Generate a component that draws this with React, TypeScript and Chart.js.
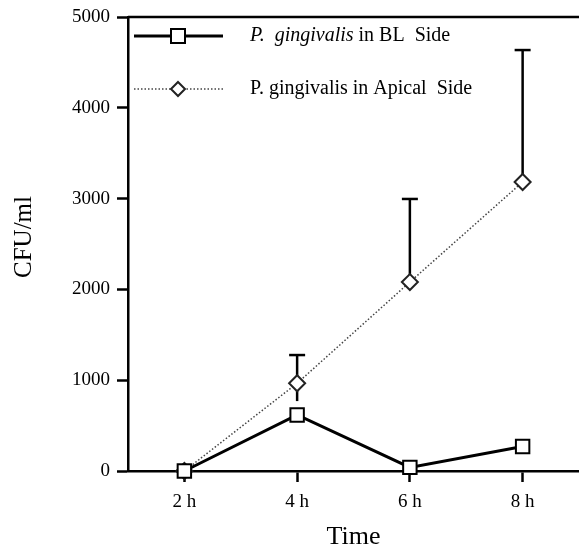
import React, { useEffect, useRef } from "react";
import { Chart, registerables } from "chart.js";

Chart.register(...registerables);

const categories = ["2 h", "4 h", "6 h", "8 h"];
const blValues = [0, 617, 40, 270];
const apicalValues = [0, 966, 2081, 3183];
const apicalUpper = [null, 1277, 2996, 4636];
const apicalLower = [null, 770, null, null];
const yTicks = [0, 1000, 2000, 3000, 4000, 5000];

const FONT = "'Liberation Serif', 'Times New Roman', serif";

const extrasPlugin = {
  id: "extras",
  beforeDatasetsDraw(chart: any) {
    const { ctx, scales } = chart;
    const xs = scales.x;
    const ys = scales.y;
    ctx.save();
    ctx.strokeStyle = "#000";
    ctx.lineWidth = 2.5;
    for (let i = 0; i < categories.length; i++) {
      const x = xs.getPixelForValue(i);
      const y0 = ys.getPixelForValue(apicalValues[i]);
      const up = apicalUpper[i];
      if (up != null) {
        const yu = ys.getPixelForValue(up);
        ctx.beginPath();
        ctx.moveTo(x, y0);
        ctx.lineTo(x, yu);
        ctx.stroke();
        ctx.beginPath();
        ctx.moveTo(x - 8, yu);
        ctx.lineTo(x + 8, yu);
        ctx.stroke();
      }
      const lo = apicalLower[i];
      if (lo != null) {
        const yl = ys.getPixelForValue(lo);
        ctx.beginPath();
        ctx.moveTo(x, y0);
        ctx.lineTo(x, yl);
        ctx.stroke();
      }
    }
    ctx.restore();
  },
  afterDraw(chart: any) {
    const { ctx, chartArea } = chart;
    ctx.save();
    // top border
    ctx.strokeStyle = "#000";
    ctx.lineWidth = 2.5;
    ctx.beginPath();
    ctx.moveTo(chartArea.left, chartArea.top);
    ctx.lineTo(chartArea.right, chartArea.top);
    ctx.stroke();

    // axis titles
    ctx.fillStyle = "#000";
    ctx.font = `26px ${FONT}`;
    ctx.textAlign = "center";
    ctx.textBaseline = "alphabetic";
    ctx.fillText("Time", (chartArea.left + chartArea.right) / 2, 544);
    ctx.save();
    ctx.translate(31, (chartArea.top + chartArea.bottom) / 2 - 7);
    ctx.rotate(-Math.PI / 2);
    ctx.font = `25px ${FONT}`;
    ctx.fillText("CFU/ml", 0, 0);
    ctx.restore();

    // legend
    const lx0 = chartArea.left + 6;
    const lx1 = chartArea.left + 95;
    const mx = chartArea.left + 50;
    const tx = chartArea.left + 122;
    const r1 = chartArea.top + 19;
    const r2 = chartArea.top + 72;
    ctx.strokeStyle = "#000";
    ctx.lineWidth = 3;
    ctx.beginPath();
    ctx.moveTo(lx0, r1);
    ctx.lineTo(lx1, r1);
    ctx.stroke();
    ctx.fillStyle = "#fff";
    ctx.lineWidth = 2;
    ctx.fillRect(mx - 7, r1 - 7, 14, 14);
    ctx.strokeRect(mx - 7, r1 - 7, 14, 14);

    ctx.strokeStyle = "#444";
    ctx.lineWidth = 1.5;
    ctx.setLineDash([1.5, 2]);
    ctx.beginPath();
    ctx.moveTo(lx0, r2);
    ctx.lineTo(lx1, r2);
    ctx.stroke();
    ctx.setLineDash([]);
    ctx.lineWidth = 2;
    ctx.strokeStyle = "#222";
    ctx.beginPath();
    ctx.moveTo(mx, r2 - 7);
    ctx.lineTo(mx + 7, r2);
    ctx.lineTo(mx, r2 + 7);
    ctx.lineTo(mx - 7, r2);
    ctx.closePath();
    ctx.fillStyle = "#fff";
    ctx.fill();
    ctx.stroke();

    ctx.fillStyle = "#000";
    ctx.textAlign = "left";
    ctx.textBaseline = "middle";
    ctx.font = `italic 20px ${FONT}`;
    const t1 = "P.  gingivalis";
    ctx.fillText(t1, tx, r1);
    const w1 = ctx.measureText(t1).width;
    ctx.font = `20px ${FONT}`;
    ctx.fillText(" in BL  Side", tx + w1, r1);
    ctx.fillText("P. gingivalis in Apical  Side", tx, r2);
    ctx.restore();
  },
};

export default function App() {
  const ref = useRef<HTMLCanvasElement | null>(null);
  useEffect(() => {
    if (!ref.current) return;
    const chart = new Chart(ref.current, {
      type: "line",
      data: {
        labels: categories,
        datasets: [
          {
            label: "P. gingivalis in BL Side",
            data: blValues,
            borderColor: "#000",
            borderWidth: 3,
            pointStyle: "rect",
            pointRadius: 9.5,
            pointBorderWidth: 2,
            pointBackgroundColor: "#fff",
            pointBorderColor: "#000",
            tension: 0,
            clip: false as any,
          },
          {
            label: "P. gingivalis in Apical Side",
            data: apicalValues,
            borderColor: "#444",
            borderWidth: 1.5,
            borderDash: [1.5, 2],
            pointStyle: "rectRot",
            pointRadius: 8,
            pointBorderWidth: 2,
            pointBackgroundColor: "#fff",
            pointBorderColor: "#222",
            tension: 0,
            clip: false as any,
          },
        ],
      },
      options: {
        animation: false,
        responsive: false,
        devicePixelRatio: 1,
        layout: { autoPadding: false, padding: { top: 17, left: 0, right: 0, bottom: 0 } },
        plugins: { legend: { display: false }, tooltip: { enabled: false } },
        scales: {
          x: {
            type: "category",
            offset: true,
            grid: {
              display: true,
              drawOnChartArea: false,
              drawTicks: true,
              tickLength: 11,
              tickColor: "#000",
              tickWidth: 2.5,
              offset: false,
            },
            border: { display: true, color: "#000", width: 2.5 },
            ticks: {
              color: "#000",
              font: { family: FONT, size: 19 },
              padding: 9,
              maxRotation: 0,
            },
            afterFit(scale: any) {
              scale.height = 75;
              scale.paddingLeft = 0;
              scale.paddingRight = 0;
            },
          },
          y: {
            min: 0,
            max: 5000,
            afterBuildTicks(scale: any) {
              scale.ticks = yTicks.map((v) => ({ value: v }));
            },
            grid: {
              display: true,
              drawOnChartArea: false,
              drawTicks: true,
              tickLength: 11,
              tickColor: "#000",
              tickWidth: 2.5,
            },
            border: { display: true, color: "#000", width: 2.5 },
            ticks: {
              color: "#000",
              font: { family: FONT, size: 19 },
              padding: 7,
              callback: (v: any) => String(v),
            },
            afterFit(scale: any) {
              scale.width = 128;
              scale.paddingTop = 0;
              scale.paddingBottom = 0;
            },
          },
        },
      },
      plugins: [extrasPlugin],
    });
    return () => chart.destroy();
  }, []);
  return (
    <div style={{ position: "absolute", left: 0, top: 0, width: 579, height: 546, background: "#fff" }}>
      <canvas ref={ref} width={579} height={546} />
    </div>
  );
}
